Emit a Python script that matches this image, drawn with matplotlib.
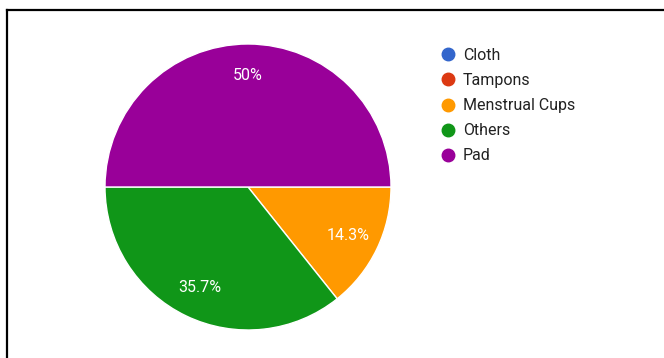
import matplotlib
matplotlib.use("Agg")
import matplotlib.pyplot as plt
from matplotlib.lines import Line2D

plt.rcParams['font.family'] = ['Roboto', 'DejaVu Sans']

# survey answers: product used
labels = ['Cloth', 'Tampons', 'Menstrual Cups', 'Others', 'Pad']
counts = [0, 0, 2, 5, 7]
colors = ['#3366cc', '#dc3912', '#ff9900', '#109618', '#990099']

W, H = 664, 358
fig = plt.figure(figsize=(W / 100, H / 100), dpi=100)

# pie centred at (248, 187) px, radius 143 px
cx, cy, r = 248, 187, 143
ax = fig.add_axes([(cx - r) / W, (H - cy - r) / H, 2 * r / W, 2 * r / H])

def pct(p):
    if p < 0.5:
        return ''
    s = '%.1f%%' % p
    return s.replace('.0%', '%')

wedges, texts, autotexts = ax.pie(
    counts, colors=colors, startangle=0, counterclock=False,
    autopct=pct, pctdistance=0.78,
    wedgeprops=dict(edgecolor='white', linewidth=1.0),
    textprops=dict(color='white', fontsize=11.5))
ax.set_xlim(-1, 1)
ax.set_ylim(-1, 1)
ax.set_aspect('equal')

handles = [Line2D([], [], marker='o', linestyle='', markersize=9,
                  markerfacecolor=c, markeredgecolor=c) for c in colors]
fig.legend(handles, labels, loc='upper left',
           bbox_to_anchor=(442 / W, 1 - 48 / H), frameon=False,
           fontsize=11.5, labelcolor='#222222', handlelength=0.75,
           handletextpad=0.56, labelspacing=0.63, borderpad=0, borderaxespad=0)

# screenshot frame, cut off at the right and bottom
fig.add_artist(Line2D([7 / W, 1], [1 - 10 / H, 1 - 10 / H], color='black', lw=1.6))
fig.add_artist(Line2D([7 / W, 7 / W], [0, 1 - 10 / H], color='black', lw=1.6))

fig.savefig('out.png', dpi=100, facecolor='white')
